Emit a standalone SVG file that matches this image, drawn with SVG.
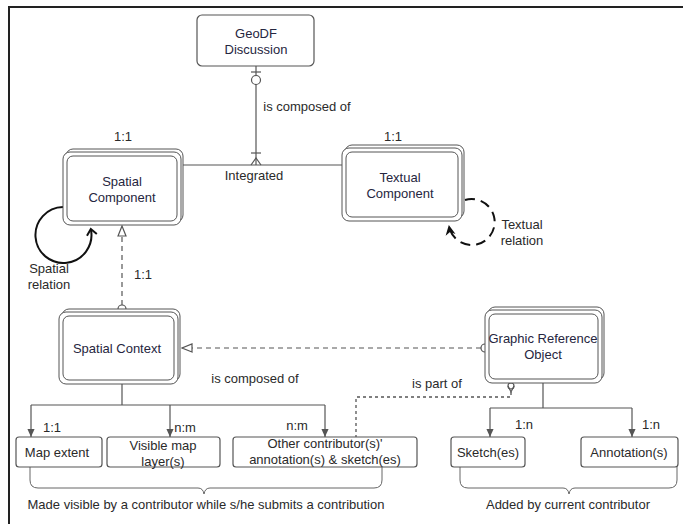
<svg xmlns="http://www.w3.org/2000/svg" width="683" height="524" viewBox="0 0 683 524">
<style>
text{font-family:"Liberation Sans",Arial,sans-serif;font-size:13px;fill:#2a2a2a;text-anchor:middle}
.nt{fill:#262640}
.box{fill:#fff;stroke:#555;stroke-width:1.2}
.st{fill:#fff;stroke:#555;stroke-width:1}
.ln{fill:none;stroke:#555;stroke-width:1.2}
.dash{fill:none;stroke:#555;stroke-width:1.2;stroke-dasharray:5,4}
.dot{fill:none;stroke:#555;stroke-width:1.3;stroke-dasharray:3,3}
.brace{fill:none;stroke:#666;stroke-width:1}
</style>
<defs>
<marker id="tri" viewBox="0 0 12 10" refX="11" refY="5" markerWidth="12" markerHeight="10" markerUnits="userSpaceOnUse" orient="auto">
<path d="M1,1 L11,5 L1,9 Z" fill="#fff" stroke="#555" stroke-width="1.2"/>
</marker>
<marker id="fa" viewBox="0 0 10 10" refX="9" refY="5" markerWidth="9" markerHeight="9" markerUnits="userSpaceOnUse" orient="auto">
<path d="M0,1 L9,5 L0,9 Z" fill="#555"/>
</marker>
<marker id="open" viewBox="0 0 12 12" refX="6" refY="6" markerWidth="12" markerHeight="12" markerUnits="userSpaceOnUse" orient="auto">
<path d="M1,1 L7,6 L1,11" fill="none" stroke="#111" stroke-width="2"/>
</marker>
<marker id="blk" viewBox="0 0 12 12" refX="9" refY="6" markerWidth="12" markerHeight="12" markerUnits="userSpaceOnUse" orient="auto">
<path d="M0,1 L10,6 L0,11 L3,6 Z" fill="#111"/>
</marker>
</defs>
<rect x="9" y="7" width="690" height="530" fill="#fff" stroke="#222" stroke-width="2"/>
<g id="connectors">
<line class="ln" x1="256" y1="66" x2="256" y2="165"/>
<line class="ln" x1="251" y1="72" x2="261" y2="72"/>
<circle cx="256" cy="80" r="4.5" fill="#fff" stroke="#555" stroke-width="1.2"/>
<line class="ln" x1="251" y1="153" x2="261" y2="153"/>
<path class="ln" d="M251,165 L256,158 L261,165"/>
<line class="ln" x1="183" y1="165" x2="343" y2="165"/>
<path d="M63,207 A28,28 0 1 0 91,230" fill="none" stroke="#111" stroke-width="2" marker-end="url(#open)"/>
<path d="M465,200 A23,23 0 1 1 449,226" fill="none" stroke="#111" stroke-width="2" stroke-dasharray="10,6" marker-end="url(#blk)"/>
<line class="dash" x1="122" y1="305" x2="122" y2="226" marker-end="url(#tri)"/>
<circle cx="122" cy="309" r="4" fill="#fff" stroke="#555" stroke-width="1.2"/>
<line class="dash" x1="481" y1="348" x2="182" y2="348" marker-end="url(#tri)"/>
<circle cx="485" cy="348" r="4" fill="#fff" stroke="#555" stroke-width="1.2"/>
<circle cx="511" cy="386" r="3" fill="#fff" stroke="#555" stroke-width="1.2"/>
<path class="ln" d="M508,386 L511,392 L514,386"/>
<path class="dot" d="M511,392 L511,397 L356,397 L356,437"/>
<path class="ln" d="M122,383 L122,405 M31,405 L325,405"/>
<line class="ln" x1="31" y1="405" x2="31" y2="437" marker-end="url(#fa)"/>
<line class="ln" x1="170" y1="405" x2="170" y2="437" marker-end="url(#fa)"/>
<line class="ln" x1="325" y1="405" x2="325" y2="437" marker-end="url(#fa)"/>
<path class="ln" d="M543,383 L543,408 M490,408 L632,408"/>
<line class="ln" x1="490" y1="408" x2="490" y2="437" marker-end="url(#fa)"/>
<line class="ln" x1="632" y1="408" x2="632" y2="437" marker-end="url(#fa)"/>
<path class="brace" d="M30,467 L30,480 Q30,488 38,488 L198,488 Q203,488 204,494 Q205,488 210,488 L374,488 Q382,488 382,480 L382,467"/>
<path class="brace" d="M460,467 L460,480 Q460,488 468,488 L563,488 Q568,488 569,494 Q570,488 575,488 L669,488 Q677,488 677,480 L677,467"/>
</g>
<g id="geodf">
<rect class="box" x="197" y="15" width="117" height="51" rx="5"/>
<text class="nt" x="256" y="38">GeoDF</text>
<text class="nt" x="256" y="54">Discussion</text>
</g>
<g id="spatial-component">
<rect class="st" x="66" y="149" width="117" height="73" rx="7"/>
<rect class="st" x="63" y="152" width="118" height="73" rx="7"/>
<rect class="st" x="67" y="156" width="110" height="65" rx="6"/>
<text class="nt" x="122" y="186">Spatial</text>
<text class="nt" x="122" y="202">Component</text>
</g>
<g id="textual-component">
<rect class="st" x="345" y="145" width="119" height="73" rx="7"/>
<rect class="st" x="342" y="148" width="120" height="73" rx="7"/>
<rect class="st" x="346" y="152" width="112" height="65" rx="6"/>
<text class="nt" x="400" y="182">Textual</text>
<text class="nt" x="400" y="198">Component</text>
</g>
<g id="spatial-context">
<rect class="st" x="62" y="309" width="118" height="72" rx="7"/>
<rect class="st" x="59" y="312" width="119" height="72" rx="7"/>
<rect class="st" x="63" y="316" width="111" height="64" rx="6"/>
<text class="nt" x="117" y="353">Spatial Context</text>
</g>
<g id="graphic-reference-object">
<rect class="st" x="488" y="307" width="116" height="73" rx="7"/>
<rect class="st" x="485" y="310" width="117" height="73" rx="7"/>
<rect class="st" x="489" y="314" width="109" height="65" rx="6"/>
<text class="nt" x="543" y="343">Graphic Reference</text>
<text class="nt" x="543" y="359">Object</text>
</g>
<g id="map-extent">
<rect class="box" x="16" y="437" width="86" height="30" rx="3"/>
<text x="57" y="457">Map extent</text>
</g>
<g id="visible-map-layers">
<rect class="box" x="107" y="437" width="113" height="30" rx="3"/>
<text x="163" y="450">Visible map</text>
<text x="163" y="466">layer(s)</text>
</g>
<g id="other-contributors">
<rect class="box" x="233" y="437" width="184" height="30" rx="3"/>
<text x="325" y="448">Other contributor(s)'</text>
<text x="325" y="464">annotation(s) &amp; sketch(es)</text>
</g>
<g id="sketches">
<rect class="box" x="451" y="437" width="74" height="30" rx="3"/>
<text x="488" y="457">Sketch(es)</text>
</g>
<g id="annotations">
<rect class="box" x="581" y="437" width="97" height="30" rx="3"/>
<text x="629" y="457">Annotation(s)</text>
</g>
<g id="labels">
<text x="307" y="111">is composed of</text>
<text x="254" y="180">Integrated</text>
<text x="123" y="141">1:1</text>
<text x="393" y="141">1:1</text>
<text x="522" y="229">Textual</text>
<text x="522" y="245">relation</text>
<text x="49" y="273">Spatial</text>
<text x="49" y="289">relation</text>
<text x="143" y="279">1:1</text>
<text x="255" y="383">is composed of</text>
<text x="437" y="388">is part of</text>
<text x="52" y="432">1:1</text>
<text x="185" y="432">n:m</text>
<text x="297" y="430">n:m</text>
<text x="524" y="429">1:n</text>
<text x="651" y="429">1:n</text>
<text x="206" y="509">Made visible by a contributor while s/he submits a contribution</text>
<text x="568" y="509">Added by current contributor</text>
</g>
</svg>
